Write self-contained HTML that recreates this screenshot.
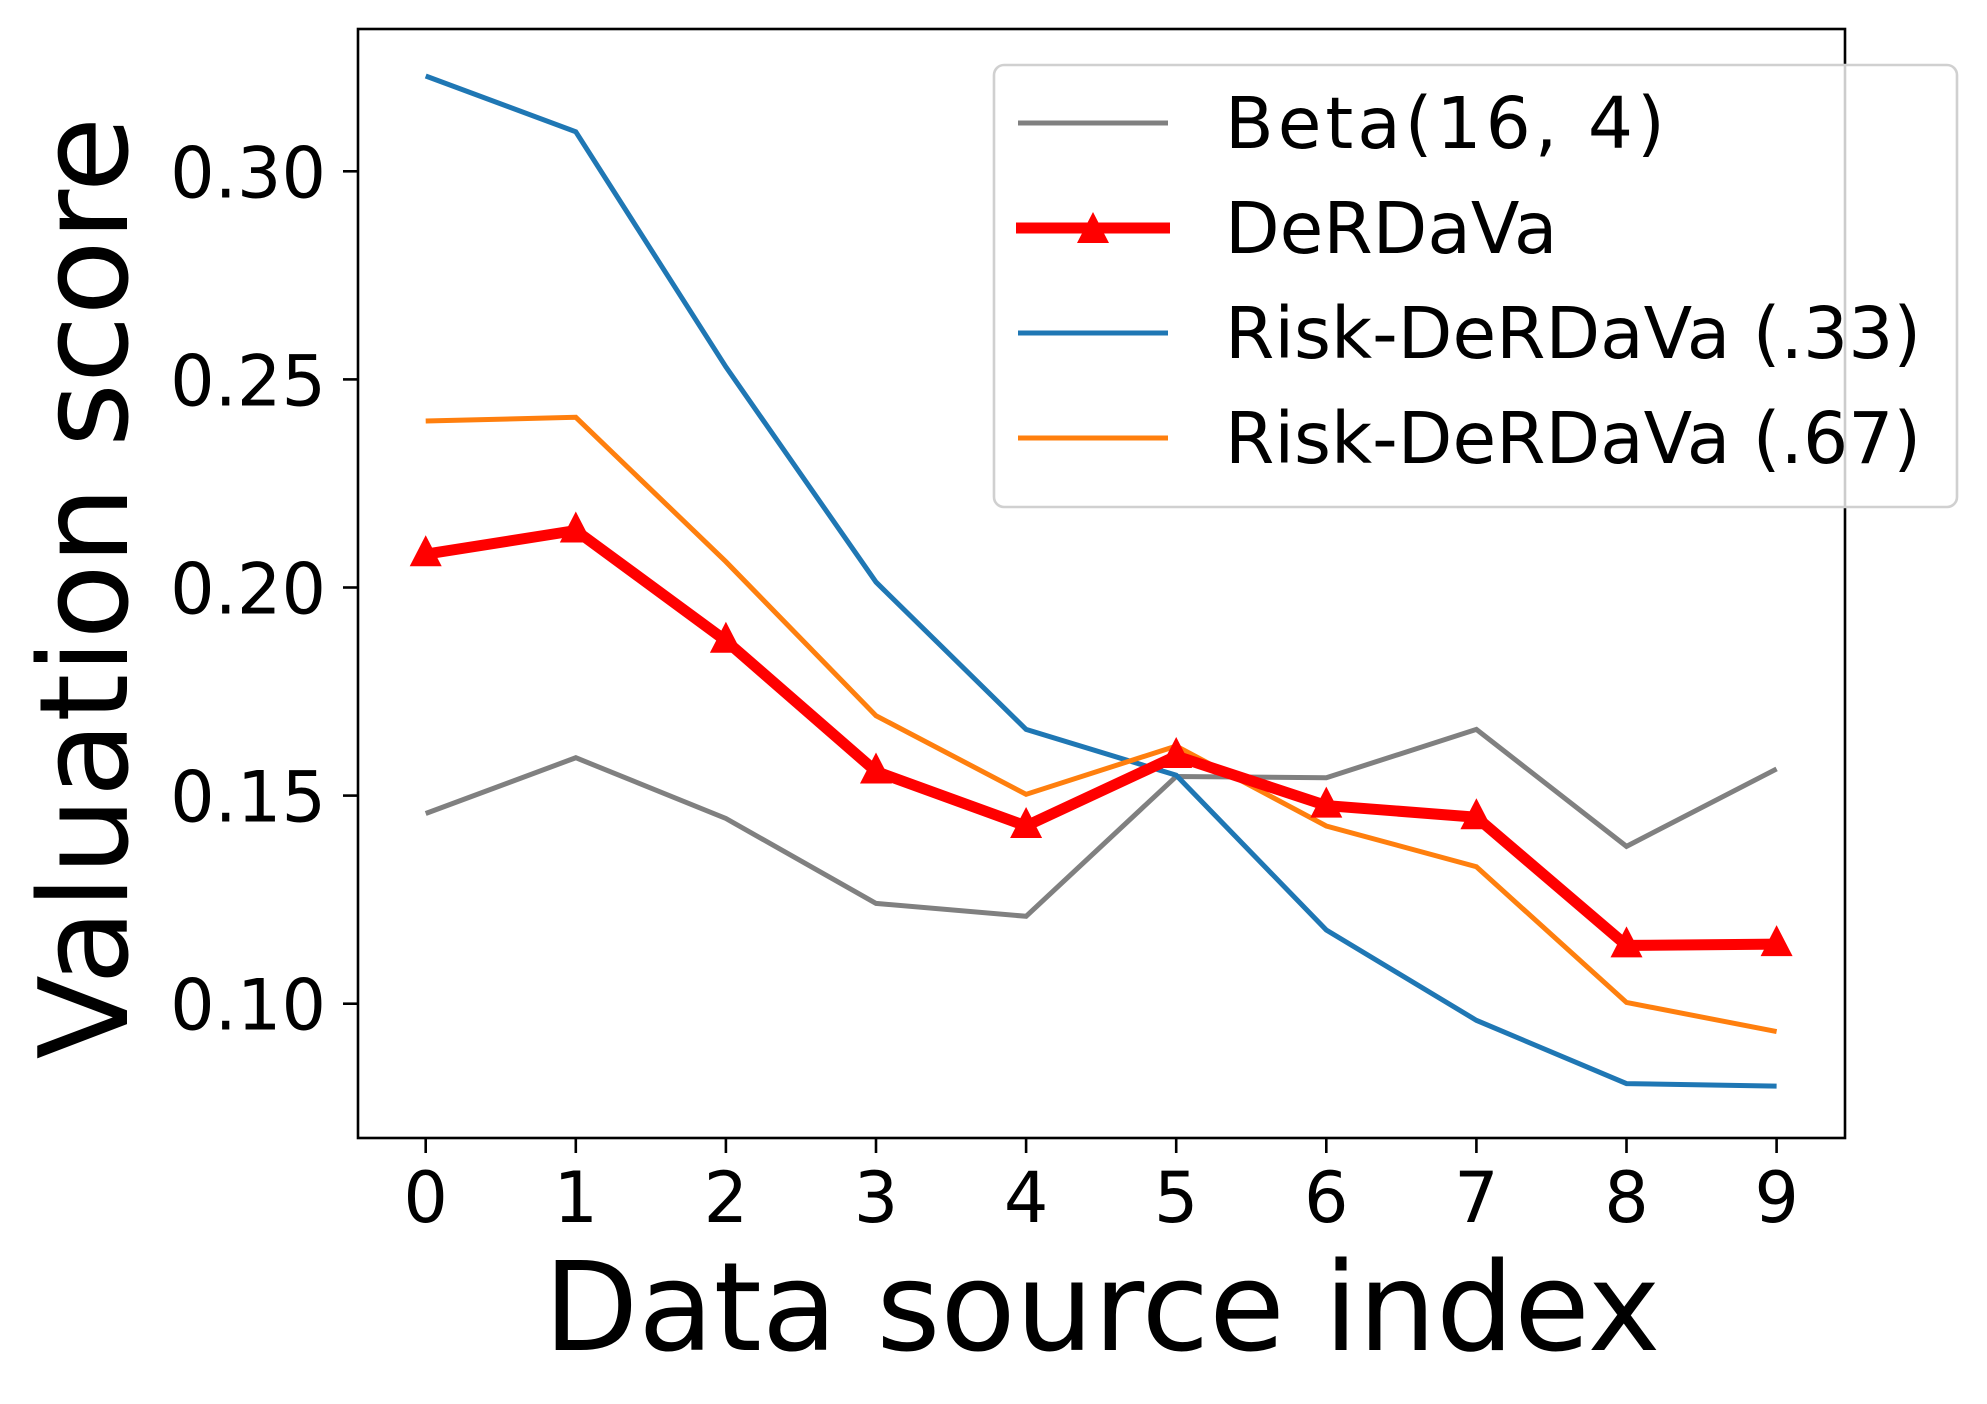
<!DOCTYPE html>
<html><head><meta charset="utf-8"><style>
html,body{margin:0;padding:0;background:#fff;}
svg{display:block;font-family:"DejaVu Sans","Liberation Sans",sans-serif;}
</style></head><body>
<svg id="chart" width="1987" height="1404" viewBox="0 0 1987 1404" xmlns="http://www.w3.org/2000/svg">
<rect x="0" y="0" width="1987" height="1404" fill="#fff"/>
<g id="plot"></g>
<rect x="358" y="29" width="1487" height="1109" fill="none" stroke="#000" stroke-width="2.6"/>
<g id="ticks"></g>
<text x="1102" y="1350" font-size="123" text-anchor="middle">Data source index</text>
<text transform="translate(127,588) rotate(-90)" font-size="123" text-anchor="middle">Valuation score</text>
<g>
<rect x="994" y="65" width="963" height="442" rx="10" fill="#fff" fill-opacity="0.8" stroke="#d0d0d0" stroke-width="2.6"/>
<g><line x1="1018" y1="123" x2="1168" y2="123" stroke="#808080" stroke-width="5"/><text x="1225" y="148" font-size="71" letter-spacing="4">Beta(16, 4)</text></g>
<g><line x1="1016" y1="228" x2="1170" y2="228" stroke="#ff0000" stroke-width="11"/><polygon points="1093,212 1109,243 1077,243" fill="#ff0000"/><text x="1225" y="253" font-size="71">DeRDaVa</text></g>
<g><line x1="1018" y1="333" x2="1168" y2="333" stroke="#1f77b4" stroke-width="5"/><text x="1225" y="358" font-size="71">Risk-DeRDaVa (.33)</text></g>
<g><line x1="1018" y1="438" x2="1168" y2="438" stroke="#ff7f0e" stroke-width="5"/><text x="1225" y="463" font-size="71">Risk-DeRDaVa (.67)</text></g>
</g>
</svg>
<script>
const categories = [0,1,2,3,4,5,6,7,8,9];
const betaValues = [0.1457,0.1591,0.1445,0.1241,0.1210,0.1546,0.1543,0.1659,0.1378,0.1564];
const derdavaValues = [0.2080,0.2137,0.1872,0.1558,0.1427,0.1595,0.1476,0.1448,0.1140,0.1143];
const risk033Values = [0.3229,0.3095,0.2530,0.2013,0.1659,0.1549,0.1177,0.0960,0.0808,0.0802];
const risk067Values = [0.2400,0.2409,0.2062,0.1692,0.1503,0.1619,0.1427,0.1329,0.1003,0.0933];
const yTickValues = [0.10,0.15,0.20,0.25,0.30];
const yTickLabels = ["0.10","0.15","0.20","0.25","0.30"];

const NS = "http://www.w3.org/2000/svg";
function xPos(i){ return 425.7 + i*150.1; }
function yPos(v){ return 1003.7 - (v-0.10)*4162; }
const plot = document.getElementById('plot');
const ticks = document.getElementById('ticks');

function drawSeries(vals, color, width, name, markers){
  const pl = document.createElementNS(NS,'polyline');
  pl.setAttribute('points', vals.map((v,i)=>xPos(categories[i])+','+yPos(v)).join(' '));
  pl.setAttribute('fill','none');
  pl.setAttribute('stroke',color);
  pl.setAttribute('stroke-width',width);
  pl.setAttribute('stroke-linejoin','miter');
  
  
  plot.appendChild(pl);
  if(markers){
    vals.forEach((v,i)=>{
      const x=xPos(categories[i]), y=yPos(v);
      const t=document.createElementNS(NS,'polygon');
      t.setAttribute('points', x+','+(y-19)+' '+(x+16)+','+(y+12)+' '+(x-16)+','+(y+12));
      t.setAttribute('fill',color);
      
      
      plot.appendChild(t);
    });
  }
}
drawSeries(betaValues,'#808080',5,'beta-line',false);
drawSeries(risk033Values,'#1f77b4',5,'risk-033-line',false);
drawSeries(risk067Values,'#ff7f0e',5,'risk-067-line',false);
drawSeries(derdavaValues,'#ff0000',11,'derdava-line',true);

categories.forEach(c=>{
  const x=xPos(c);
  const l=document.createElementNS(NS,'line');
  l.setAttribute('x1',x); l.setAttribute('x2',x); l.setAttribute('y1',1138); l.setAttribute('y2',1153);
  l.setAttribute('stroke','#000'); l.setAttribute('stroke-width',2.6);
  
  
  ticks.appendChild(l);
  const t=document.createElementNS(NS,'text');
  t.setAttribute('x',x); t.setAttribute('y',1222); t.setAttribute('font-size',70); t.setAttribute('text-anchor','middle');
  t.textContent=String(c);
  
  
  ticks.appendChild(t);
});
yTickValues.forEach((v,i)=>{
  const y=yPos(v);
  const l=document.createElementNS(NS,'line');
  l.setAttribute('x1',343); l.setAttribute('x2',358); l.setAttribute('y1',y); l.setAttribute('y2',y);
  l.setAttribute('stroke','#000'); l.setAttribute('stroke-width',2.6);
  
  
  ticks.appendChild(l);
  const t=document.createElementNS(NS,'text');
  t.setAttribute('x',326); t.setAttribute('y',y+26); t.setAttribute('font-size',70); t.setAttribute('text-anchor','end');
  t.textContent=yTickLabels[i];
  
  
  ticks.appendChild(t);
});
</script>
</body></html>
